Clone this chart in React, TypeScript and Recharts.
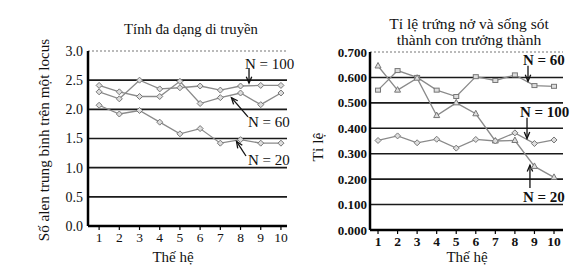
import React from 'react';
import { LineChart, Line, XAxis, YAxis, ReferenceLine, ReferenceDot } from 'recharts';

const generations = [1, 2, 3, 4, 5, 6, 7, 8, 9, 10];

// Tính đa dạng di truyền (số alen trung bình trên một locus)
const alleles100 = [2.3, 2.18, 2.5, 2.35, 2.37, 2.4, 2.33, 2.4, 2.41, 2.41];
const alleles60 = [2.41, 2.3, 2.22, 2.22, 2.48, 2.1, 2.2, 2.28, 2.08, 2.28];
const alleles20 = [2.07, 1.92, 1.98, 1.78, 1.58, 1.67, 1.42, 1.48, 1.42, 1.42];
const allelesTicks = [0, 0.5, 1, 1.5, 2, 2.5, 3];

// Tỉ lệ trứng nở và sống sót thành con trưởng thành
const survival60 = [0.55, 0.627, 0.6, 0.55, 0.525, 0.603, 0.588, 0.61, 0.568, 0.565];
const survival20 = [0.645, 0.55, 0.597, 0.45, 0.5, 0.457, 0.35, 0.352, 0.25, 0.207];
const survival100 = [0.352, 0.37, 0.343, 0.357, 0.322, 0.356, 0.35, 0.382, 0.34, 0.354];
const survivalTicks = [0, 0.1, 0.2, 0.3, 0.4, 0.5, 0.6, 0.7];

// annotation: text anchor point + arrow (data coordinates)
const allelesNotes = [
  { label: 'N = 100', tx: 8.22, ty: 2.79, from: [8.42, 2.71], to: [8.42, 2.45] },
  { label: 'N = 60', tx: 8.37, ty: 1.78, from: [8.37, 1.87], to: [7.55, 2.2] },
  { label: 'N = 20', tx: 8.37, ty: 1.13, from: [8.27, 1.2], to: [7.8, 1.45] },
];
const survivalNotes = [
  { label: 'N = 60', tx: 8.41, ty: 0.669, from: [8.67, 0.646], to: [8.67, 0.585] },
  { label: 'N = 100', tx: 8.26, ty: 0.465, from: [8.62, 0.441], to: [8.62, 0.36] },
  { label: 'N = 20', tx: 8.41, ty: 0.13, from: [8.77, 0.165], to: [8.77, 0.255] },
];

const allelesData = generations.map((g, i) => ({
  gen: g,
  n100: alleles100[i],
  n60: alleles60[i],
  n20: alleles20[i],
}));
const survivalData = generations.map((g, i) => ({
  gen: g,
  n60: survival60[i],
  n20: survival20[i],
  n100: survival100[i],
}));

const SERIF = "'Times New Roman', 'Liberation Serif', Times, 'DejaVu Serif', 'Noto Serif', serif";
const LINE = '#8a8a8a';

const Diamond = (props: any) => {
  const { cx, cy } = props;
  if (cx == null || cy == null) return null;
  return <path d={`M${cx},${cy - 3}L${cx + 3},${cy}L${cx},${cy + 3}L${cx - 3},${cy}Z`} fill="#ddd" stroke="#777" strokeWidth={1} />;
};
const Square = (props: any) => {
  const { cx, cy } = props;
  if (cx == null || cy == null) return null;
  return <rect x={cx - 2.5} y={cy - 2} width={5} height={4} fill="#ddd" stroke="#777" strokeWidth={1} />;
};
const Tri = (props: any) => {
  const { cx, cy } = props;
  if (cx == null || cy == null) return null;
  return <path d={`M${cx},${cy - 3.5}L${cx + 3},${cy + 2}L${cx - 3},${cy + 2}Z`} fill="#ddd" stroke="#777" strokeWidth={1} />;
};

const Arrow = (props: any) => {
  const { x1, y1, x2, y2 } = props;
  if (x1 == null) return null;
  const a = Math.atan2(y2 - y1, x2 - x1);
  const L = 7;
  const w = 0.4;
  const p1 = [x2 - L * Math.cos(a - w), y2 - L * Math.sin(a - w)];
  const p2 = [x2 - L * Math.cos(a + w), y2 - L * Math.sin(a + w)];
  return (
    <g>
      <line x1={x1} y1={y1} x2={x2} y2={y2} stroke="#111" strokeWidth={1.3} />
      <path d={`M${p1[0]},${p1[1]}L${x2},${y2}L${p2[0]},${p2[1]}`} fill="none" stroke="#111" strokeWidth={1.3} />
    </g>
  );
};

const noteText = (label: string, bold: boolean) => (props: any) => {
  const { cx, cy } = props;
  if (cx == null) return null;
  return (
    <text x={cx} y={cy} dy="0.35em" style={{ fontFamily: SERIF }} fontSize={15} fontWeight={bold ? 'bold' : 'normal'} fill="#111">
      {label}
    </text>
  );
};

const gridLines = (ticks: number[], top: number) =>
  ticks
    .filter((t) => t > 0)
    .map((t) => (
      <ReferenceLine
        key={`g${t}`}
        y={t}
        stroke={t === top ? '#777' : '#1a1a1a'}
        strokeWidth={t === top ? 1.2 : 1.6}
        strokeDasharray={t === top ? '2 2' : undefined}
      />
    ));

const notes = (list: typeof allelesNotes, bold: boolean) => [
  ...list.map((n) => (
    <ReferenceLine
      key={`a${n.label}`}
      segment={[{ x: n.from[0], y: n.from[1] }, { x: n.to[0], y: n.to[1] }]}
      shape={<Arrow />}
      ifOverflow="visible"
    />
  )),
  ...list.map((n) => (
    <ReferenceDot key={`t${n.label}`} x={n.tx} y={n.ty} r={0} shape={noteText(n.label, bold)} ifOverflow="visible" />
  )),
];

const series = (shapes: Record<string, any>) =>
  Object.keys(shapes).map((k) => (
    <Line
      key={k}
      type="linear"
      dataKey={k}
      stroke={LINE}
      strokeWidth={1.3}
      dot={shapes[k]}
      isAnimationActive={false}
    />
  ));

const tickStyle = (bold: boolean, size: number) => ({
  fill: '#111',
  fontSize: size,
  fontWeight: bold ? 'bold' : 'normal',
  style: { fontFamily: SERIF },
});

const DiversityChart = () => (
  <LineChart width={300} height={273} data={allelesData} margin={{ top: 51, right: 13, bottom: 17, left: 38 }} style={{ fontFamily: SERIF }}>
    {gridLines(allelesTicks, 3)}
    {series({ n100: <Diamond />, n60: <Diamond />, n20: <Diamond /> })}
    <XAxis
      dataKey="gen"
      type="number"
      domain={[0.45, 10.3]}
      ticks={generations}
      height={30}
      axisLine={{ stroke: '#000', strokeWidth: 2.5 }}
      tickLine={{ stroke: '#000', strokeWidth: 1.2 }}
      tickSize={4}
      tickMargin={2}
      tick={tickStyle(false, 13.5)}
    />
    <YAxis
      type="number"
      domain={[0, 3]}
      ticks={allelesTicks}
      width={50}
      axisLine={{ stroke: '#000', strokeWidth: 2.5 }}
      tickLine={false}
      tickSize={0}
      tickMargin={5}
      tickFormatter={(v: number) => v.toFixed(1)}
      tick={tickStyle(false, 14)}
    />
    {notes(allelesNotes, false)}
  </LineChart>
);

const SurvivalChart = () => (
  <LineChart width={297} height={273} data={survivalData} margin={{ top: 52, right: 24, bottom: 13, left: 30 }} style={{ fontFamily: SERIF }}>
    {gridLines(survivalTicks, 0.7)}
    {series({ n60: <Square />, n20: <Tri />, n100: <Diamond /> })}
    <XAxis
      dataKey="gen"
      type="number"
      domain={[0.59, 10.46]}
      ticks={generations}
      height={30}
      axisLine={{ stroke: '#000', strokeWidth: 2.5 }}
      tickLine={{ stroke: '#000', strokeWidth: 1.2 }}
      tickSize={4}
      tickMargin={2}
      tick={tickStyle(true, 13.5)}
    />
    <YAxis
      type="number"
      domain={[0, 0.7]}
      ticks={survivalTicks}
      width={50}
      axisLine={{ stroke: '#000', strokeWidth: 2.5 }}
      tickLine={false}
      tickSize={0}
      tickMargin={3}
      tickFormatter={(v: number) => v.toFixed(3)}
      tick={tickStyle(true, 13)}
    />
    {notes(survivalNotes, true)}
  </LineChart>
);

export default function App() {
  return (
    <div style={{ position: 'absolute', left: 0, top: 0, width: 587, height: 273, background: '#fff', overflow: 'hidden', fontFamily: SERIF }}>
      <div style={{ position: 'absolute', left: 0, top: 0 }}>
        <DiversityChart />
      </div>
      <div style={{ position: 'absolute', left: 290, top: 0 }}>
        <SurvivalChart />
      </div>
      <svg width={587} height={273} style={{ position: 'absolute', left: 0, top: 0, pointerEvents: 'none', fontFamily: SERIF }} fill="#111">
        <text x={191} y={29} dy="0.35em" textAnchor="middle" fontSize={14.7}>Tính đa dạng di truyền</text>
        <text x={173} y={257} dy="0.35em" textAnchor="middle" fontSize={15}>Thế hệ</text>
        <text transform="translate(44,140) rotate(-90)" dy="0.35em" textAnchor="middle" fontSize={15.2}>Số alen trung bình trên một locus</text>
        <text x={469} y={24} dy="0.35em" textAnchor="middle" fontSize={15.5}>Tỉ lệ trứng nở và sống sót</text>
        <text x={469} y={40} dy="0.35em" textAnchor="middle" fontSize={15.5}>thành con trưởng thành</text>
        <text x={467} y={257} dy="0.35em" textAnchor="middle" fontSize={15}>Thế hệ</text>
        <text transform="translate(318,147) rotate(-90)" dy="0.35em" textAnchor="middle" fontSize={15.5}>Tỉ lệ</text>
      </svg>
    </div>
  );
}
